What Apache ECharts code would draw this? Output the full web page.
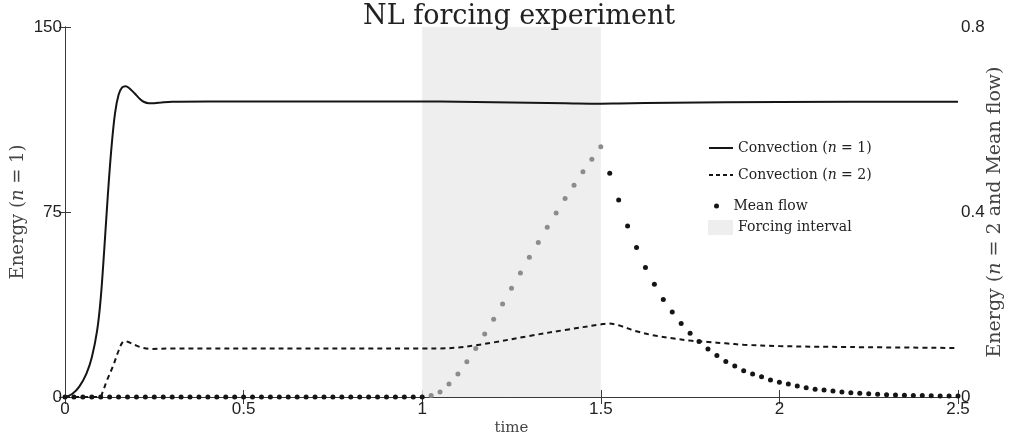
<!DOCTYPE html>
<html>
<head>
<meta charset="utf-8">
<script src="https://cdn.jsdelivr.net/npm/echarts@6/dist/echarts.min.js"></script>
<style>html,body{margin:0;padding:0;background:#fff}#c{width:1010px;height:438px}</style>
</head>
<body>
<div id="c"></div>
<script>
// ---- data ----
const xTicks = ['0', '0.5', '1', '1.5', '2', '2.5'];
const forcingInterval = [1, 1.5];

const conv1Times = [0, 0.02, 0.04, 0.06, 0.075, 0.09, 0.1, 0.11, 0.12, 0.13, 0.14, 0.15, 0.16, 0.17, 0.18, 0.19, 0.2, 0.21, 0.22, 0.235, 0.25, 0.27, 0.3, 0.4, 0.6, 0.8, 1.0, 1.1, 1.2, 1.3, 1.4, 1.5, 1.55, 1.7, 2.0, 2.5];
const conv1Values = [0, 1.2, 4.2, 9.5, 16, 27, 40, 60, 82, 101, 115, 122.5, 125.5, 126, 125.2, 123.8, 122.3, 120.8, 119.7, 119.1, 119.1, 119.4, 119.7, 119.8, 119.8, 119.8, 119.8, 119.7, 119.5, 119.3, 119.1, 118.9, 119.0, 119.3, 119.6, 119.7];

const conv2Times = [0, 0.05, 0.098, 0.105, 0.117, 0.135, 0.15, 0.16, 0.168, 0.18, 0.2, 0.22, 0.24, 0.3, 0.5, 1.0, 1.05, 1.1, 1.15, 1.2, 1.3, 1.4, 1.5, 1.52, 1.55, 1.6, 1.65, 1.7, 1.75, 1.8, 1.85, 1.9, 2.0, 2.2, 2.5];
const conv2Values = [0, 0, 0, 0.01, 0.035, 0.068, 0.1, 0.117, 0.121, 0.118, 0.111, 0.106, 0.104, 0.105, 0.105, 0.105, 0.105, 0.107, 0.112, 0.118, 0.132, 0.145, 0.157, 0.159, 0.155, 0.142, 0.133, 0.127, 0.122, 0.119, 0.116, 0.113, 0.110, 0.108, 0.106];

const meanFlowTimes = [0, 0.025, 0.05, 0.075, 0.1, 0.125, 0.15, 0.175, 0.2, 0.225, 0.25, 0.275, 0.3, 0.325, 0.35, 0.375, 0.4, 0.425, 0.45, 0.475, 0.5, 0.525, 0.55, 0.575, 0.6, 0.625, 0.65, 0.675, 0.7, 0.725, 0.75, 0.775, 0.8, 0.825, 0.85, 0.875, 0.9, 0.925, 0.95, 0.975, 1.0,
  1.025, 1.05, 1.075, 1.1, 1.125, 1.15, 1.175, 1.2, 1.225, 1.25, 1.275, 1.3, 1.325, 1.35, 1.375, 1.4, 1.425, 1.45, 1.475, 1.5,
  1.525, 1.55, 1.575, 1.6, 1.625, 1.65, 1.675, 1.7, 1.725, 1.75, 1.775, 1.8, 1.825, 1.85, 1.875, 1.9, 1.925, 1.95, 1.975, 2.0,
  2.025, 2.05, 2.075, 2.1, 2.125, 2.15, 2.175, 2.2, 2.225, 2.25, 2.275, 2.3, 2.325, 2.35, 2.375, 2.4, 2.425, 2.45, 2.475, 2.5];
const meanFlowValues = [0, 0, 0, 0, 0, 0, 0, 0, 0, 0, 0, 0, 0, 0, 0, 0, 0, 0, 0, 0, 0, 0, 0, 0, 0, 0, 0, 0, 0, 0, 0, 0, 0, 0, 0, 0, 0, 0, 0, 0, 0,
  0.003, 0.011, 0.028, 0.050, 0.076, 0.105, 0.136, 0.168, 0.201, 0.235, 0.268, 0.302, 0.334, 0.367, 0.398, 0.429, 0.458, 0.487, 0.514, 0.541,
  0.484, 0.426, 0.370, 0.323, 0.280, 0.244, 0.211, 0.184, 0.159, 0.138, 0.120, 0.104, 0.090, 0.077, 0.067, 0.057, 0.050, 0.044, 0.037, 0.032,
  0.028, 0.024, 0.020, 0.017, 0.015, 0.013, 0.011, 0.009, 0.008, 0.007, 0.006, 0.005, 0.0045, 0.004, 0.0035, 0.003, 0.0027, 0.0024, 0.002, 0.002];

// ---- chart ----
const BLACK = '#151515', GRAY = '#8c8c8c', FORCE = '#eeeeee', AXIS = '#3a3a3a';
const SERIF = '"DejaVu Serif", "Liberation Serif", serif';
const SANS = '"Liberation Sans", Arial, sans-serif';
const zip = (a, b) => a.map((t, i) => [t, b[i]]);
const inForcing = t => t > forcingInterval[0] && t <= forcingInterval[1];
const mkRich = size => ({
  a: { fontFamily: SERIF, fontSize: size, color: '#444' },
  i: { fontFamily: SERIF, fontSize: size, fontStyle: 'italic', color: '#444' }
});
const legendRich = {
  a: { fontFamily: SERIF, fontSize: 14, color: '#222' },
  i: { fontFamily: SERIF, fontSize: 14, fontStyle: 'italic', color: '#222' }
};
const legendFmt = name => {
  if (name === 'Convection (n = 1)') return '{a|Convection (}{i|n}{a| = 1)}';
  if (name === 'Convection (n = 2)') return '{a|Convection (}{i|n}{a| = 2)}';
  return '{a|' + name + '}';
};
const legendBase = { orient: 'vertical', left: 703, itemGap: 13, formatter: legendFmt, textStyle: { rich: legendRich }, selectedMode: false };

const chart = echarts.init(document.getElementById('c'), null, { renderer: 'canvas' });
chart.setOption({
  animation: false,
  backgroundColor: '#fff',
  title: {
    text: 'NL forcing experiment', left: 358, top: -2,
    textStyle: { fontFamily: SERIF, fontWeight: 'normal', fontSize: 27, color: '#222' }
  },
  grid: { left: 65, right: 52, top: 27, bottom: 41, containLabel: false, outerBoundsMode: 'none' },
  legend: [
    Object.assign({}, legendBase, {
      top: 136, itemWidth: 24, itemHeight: 14,
      data: [
        { name: 'Convection (n = 1)', itemStyle: { opacity: 0 }, lineStyle: { color: BLACK, width: 2 } },
        { name: 'Convection (n = 2)', itemStyle: { opacity: 0 }, lineStyle: { color: BLACK, width: 2, type: [4, 3] } }
      ]
    }),
    Object.assign({}, legendBase, {
      top: 194, left: 709, itemWidth: 24, itemHeight: 5,
      data: [{ name: 'Mean flow', icon: 'circle', itemStyle: { color: BLACK, opacity: 1 } }]
    }),
    Object.assign({}, legendBase, {
      top: 215, itemWidth: 25, itemHeight: 15,
      data: [{ name: 'Forcing interval', icon: 'rect', itemStyle: { color: FORCE } }]
    })
  ],
  visualMap: [{
    type: 'piecewise', show: false, dimension: 0, seriesIndex: [1, 2],
    pieces: [
      { lte: forcingInterval[0], color: BLACK },
      { gt: forcingInterval[0], lte: forcingInterval[1], color: GRAY },
      { gt: forcingInterval[1], color: BLACK }
    ]
  }],
  xAxis: [{
    type: 'value', min: 0, max: 2.5, interval: 0.5, position: 'bottom',
    axisLine: { lineStyle: { color: AXIS, width: 1 } },
    axisTick: { inside: true, length: 7, lineStyle: { color: AXIS } },
    splitLine: { show: false },
    axisLabel: { fontFamily: SANS, fontSize: 17, color: '#222', margin: 4, formatter: (v, i) => xTicks[i] },
    name: 'time', nameLocation: 'middle', nameGap: 24, nameMoveOverlap: false,
    nameTextStyle: { fontFamily: SERIF, fontSize: 15, color: '#444' }
  }, {
    type: 'value', min: 0, max: 2.5, interval: 0.5, position: 'top',
    axisLine: { lineStyle: { color: AXIS, width: 1 } },
    axisTick: { inside: true, length: 7, lineStyle: { color: AXIS } },
    axisLabel: { show: false }, splitLine: { show: false }
  }],
  yAxis: [{
    type: 'value', min: 0, max: 150, interval: 75, position: 'left',
    axisLine: { show: true, lineStyle: { color: AXIS, width: 1 } },
    axisTick: { show: true, inside: true, length: 6, lineStyle: { color: AXIS } },
    splitLine: { show: false },
    axisLabel: { fontFamily: SANS, fontSize: 17, color: '#222', margin: 3 },
    name: '{a|Energy (}{i|n}{a| = 1)}', nameLocation: 'middle', nameGap: 38, nameRotate: 90, nameMoveOverlap: false,
    nameTextStyle: { rich: mkRich(18) }
  }, {
    type: 'value', min: 0, max: 0.8, interval: 0.4, position: 'right',
    axisLine: { show: true, lineStyle: { color: AXIS, width: 1 } },
    axisTick: { show: true, inside: true, length: 6, lineStyle: { color: AXIS } },
    splitLine: { show: false },
    axisLabel: { fontFamily: SANS, fontSize: 17, color: '#222', margin: 3 },
    name: '{a|Energy (}{i|n}{a| = 2 and Mean flow)}', nameLocation: 'middle', nameGap: 28, nameRotate: 90, nameMoveOverlap: false,
    nameTextStyle: { rich: mkRich(19) }
  }],
  series: [{
    name: 'Forcing interval', type: 'line', data: [], z: 0,
    markArea: {
      silent: true, itemStyle: { color: FORCE },
      data: [[{ xAxis: forcingInterval[0] }, { xAxis: forcingInterval[1] }]]
    }
  }, {
    name: 'Convection (n = 1)', type: 'line', xAxisIndex: 0, yAxisIndex: 0,
    data: zip(conv1Times, conv1Values), showSymbol: false, symbol: 'none', smooth: 0.35,
    lineStyle: { width: 2, color: BLACK }, z: 3
  }, {
    name: 'Convection (n = 2)', type: 'line', xAxisIndex: 0, yAxisIndex: 1,
    data: zip(conv2Times, conv2Values), showSymbol: false, symbol: 'none', smooth: 0.35,
    lineStyle: { width: 2, color: BLACK, type: [5, 4] }, z: 3
  }, {
    name: 'Mean flow', type: 'scatter', xAxisIndex: 0, yAxisIndex: 1,
    data: zip(meanFlowTimes, meanFlowValues), symbol: 'circle', symbolSize: 5,
    itemStyle: { color: p => inForcing(p.value[0]) ? GRAY : BLACK, opacity: 1 }, z: 4
  }]
});
</script>
</body>
</html>
